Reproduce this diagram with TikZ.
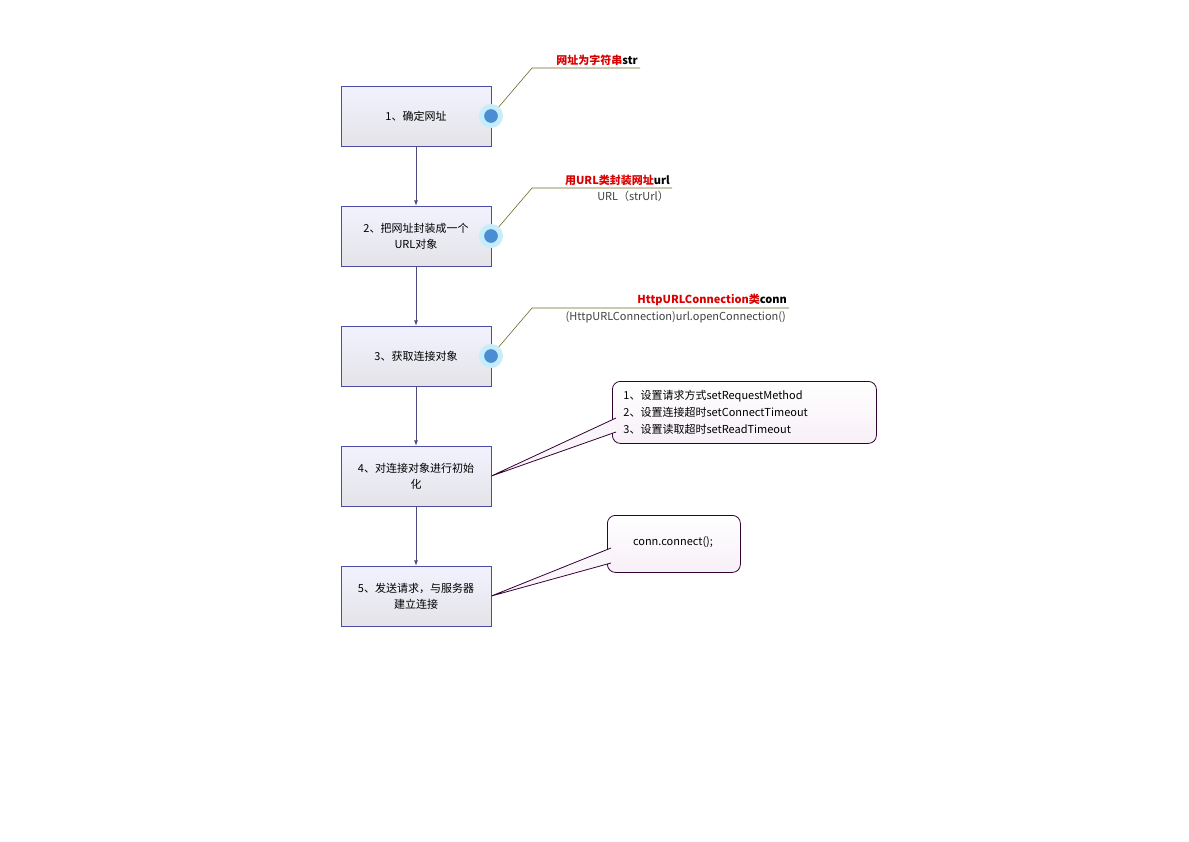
\documentclass[tikz,border=0pt]{standalone}
\usepackage{fontspec}
\setmainfont{Noto Sans CJK SC}
\begin{document}
\begin{tikzpicture}[x=1pt,y=-1pt,
  stepbox/.style={draw=blue!50!black!70,line width=0.8pt,top color=white!95!blue,bottom color=blue!8!gray!20,minimum width=150pt,minimum height=60pt,inner sep=0pt,align=center,font=\fontsize{11}{16}\selectfont},
  arr/.style={-latex,draw=blue!30!black!70,line width=0.8pt},
  lead/.style={draw=olive!70!black,line width=0.6pt},
  dot/.style={circle,fill=cyan!55!blue!75,draw=cyan!22,line width=5pt,minimum size=19pt,inner sep=0pt},
  note/.style={draw=violet!40!black,line width=0.8pt,rounded corners=8pt,top color=white,bottom color=violet!6,inner sep=0pt,font=\fontsize{11}{17}\selectfont,align=left},
  wline/.style={draw=violet!40!black,line width=0.8pt},
  red/.style={font=\bfseries\fontsize{11}{13}\selectfont,anchor=south east,inner sep=2pt},
  sub/.style={anchor=north east,font=\fontsize{11}{13}\selectfont,text=black!75,inner sep=3pt}]
\useasboundingbox (0,0) rectangle (1189,841);
\node[stepbox] (b1) at (416,116) {1、确定网址};
\node[stepbox] (b2) at (416,236) {2、把网址封装成一个\\URL对象};
\node[stepbox] (b3) at (416,356) {3、获取连接对象};
\node[stepbox] (b4) at (416,476) {4、对连接对象进行初始\\化};
\node[stepbox] (b5) at (416,596) {5、发送请求，与服务器\\建立连接};
\foreach \a/\b in {b1/b2,b2/b3,b3/b4,b4/b5} \draw[arr] (\a) -- (\b);
\coordinate (k1) at (532,68); \coordinate (e1) at (640,68);
\coordinate (k2) at (532,188); \coordinate (e2) at (672,188);
\coordinate (k3) at (532,308); \coordinate (e3) at (789,308);
\foreach \i/\y in {1/116,2/236,3/356}{
  \draw[lead] (491,\y) -- (k\i) -- (e\i);
  \node[dot] (d\i) at (491,\y) {};
}
\node[red] (t1) at (e1) {\textcolor{red!85!black}{网址为字符串}str};
\node[red] (t2) at (e2) {\textcolor{red!85!black}{用URL类封装网址}url};
\node[sub] (s2) at (e2) {URL（strUrl）};
\node[red] (t3) at (e3) {\textcolor{red!85!black}{HttpURLConnection类}conn};
\node[sub] (s3) at (e3) {(HttpURLConnection)url.openConnection()};
% note 4
\node[note,minimum width=264pt,minimum height=62pt,anchor=north west,text width=250pt] (n4) at (612,381) {\hspace*{4pt}1、设置请求方式setRequestMethod\\\hspace*{4pt}2、设置连接超时setConnectTimeout\\\hspace*{4pt}3、设置读取超时setReadTimeout};
\coordinate (p4) at (b4.east);
\fill[violet!4] (p4) -- (616,418) -- (616,432) -- cycle;
\draw[wline] (616,418) -- (p4) -- (616,432);
% note 5
\node[note,minimum width=133pt,minimum height=57pt,anchor=north west] (n5) at (607,515) {};
\coordinate (p5) at (b5.east);
\fill[violet!4] (p5) -- (611,548) -- (611,563) -- cycle;
\draw[wline] (611,548) -- (p5) -- (611,563);
\node[font=\fontsize{11}{13}\selectfont] (c5) at (673,542) {conn.connect();};
\end{tikzpicture}
\end{document}
